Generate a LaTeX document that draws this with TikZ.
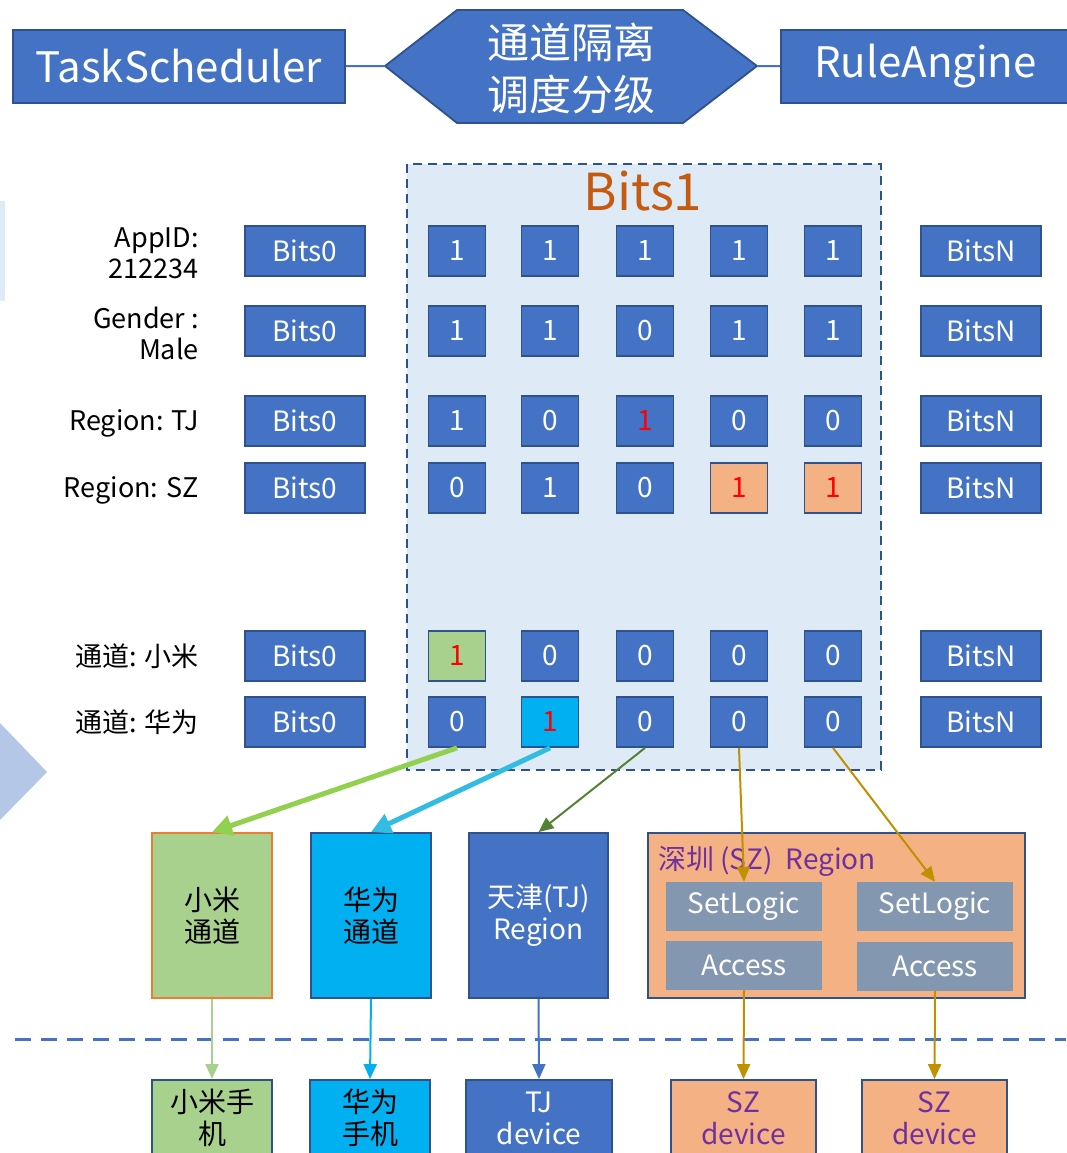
\documentclass[tikz,border=0pt]{standalone}
\usepackage{fontspec}
\setmainfont{Noto Sans CJK SC}
\usetikzlibrary{arrows.meta,positioning}
\definecolor{cblue}{HTML}{4472C4}
\definecolor{cborder}{HTML}{2F528F}
\definecolor{clight}{HTML}{DEEBF7}
\definecolor{cpale}{HTML}{B4C7E7}
\definecolor{cgreen}{HTML}{A9D18E}
\definecolor{ccyan}{HTML}{00B0F0}
\definecolor{cpeach}{HTML}{F4B183}
\definecolor{cgrey}{HTML}{8497B0}
\definecolor{corange}{HTML}{C55A11}
\definecolor{corangeb}{HTML}{ED7D31}
\definecolor{cpurple}{HTML}{7030A0}
\definecolor{cgold}{HTML}{BF9000}
\definecolor{cdgreen}{HTML}{548235}
\definecolor{clgreen}{HTML}{92D050}
\definecolor{csky}{HTML}{33BCE2}
\tikzset{
        node_box/.style={align=center,inner sep=0pt,draw=cborder,line width=1.8pt},
        % Header boxes
        node_head/.style={node_box, fill=cblue, text=white, minimum height=73pt, font=\fontsize{42}{50}\selectfont},
        % Bits0 / BitsN boxes
        node_group/.style={node_box, fill=cblue, text=white, minimum width=120pt, minimum height=50pt, font=\fontsize{28}{30}\selectfont},
        % Single bit cells
        node_bit/.style={node_box, fill=cblue, text=white, minimum width=57pt, minimum height=50pt, font=\fontsize{28}{30}\selectfont},
        % Set bits
        node_hit/.style={node_bit, text=red},
        % Row labels
        node_label/.style={align=right, anchor=east, inner sep=0pt, font=\fontsize{27}{31}\selectfont},
        % Channel and region boxes
        node_region/.style={node_box, minimum width=120pt, minimum height=165pt, font=\fontsize{28}{32}\selectfont},
        % SetLogic / Access boxes
        node_logic/.style={align=center, inner sep=0pt, fill=cgrey, text=white, minimum width=156pt, minimum height=49pt, font=\fontsize{28}{30}\selectfont},
        % Device boxes
        node_device/.style={node_box, minimum width=120pt, minimum height=76pt, font=\fontsize{28}{32}\selectfont},
        % Connectors
        arrow_thick/.style={line width=5pt, -{Triangle[length=20pt,width=20pt]}},
        arrow_thin/.style={line width=2pt, -{Triangle[length=15pt,width=13pt]}}
}
\begin{document}
\begin{tikzpicture}[x=1pt, y=-1pt]
    \useasboundingbox (0,0) rectangle (1066,1153);
    % shapes cut by the left edge
    \fill[clight] (0,201) rectangle (5,301);
    \fill[cpale] (0,723) -- (47,772) -- (0,820) -- cycle;

    % header
    \node[node_head, minimum width=332pt] (task) at (179,66.5) {TaskScheduler};
    \node[node_head, minimum width=289pt] (rule) at (925.5,66.5) {RuleAngine};
    \coordinate (hex_w) at (385,66);
    \coordinate (hex_e) at (757,66);
    \draw[fill=cblue, draw=cborder, line width=1.8pt] (hex_w) -- (457,10) -- (683,10) -- (hex_e) -- (683,123) -- (457,123) -- cycle;
    \node[align=center, inner sep=0pt, text=white, font=\fontsize{42}{52}\selectfont] (hex) at (571,68) {通道隔离\\调度分级};
    \draw[cblue, line width=2pt] (task) -- (hex_w);
    \draw[cblue, line width=2pt] (hex_e) -- (rule);

    % Bits1 group
    \draw[fill=clight, draw=cborder, line width=2.2pt, dash pattern=on 9pt off 6pt] (407,164) rectangle (881,770);
    \node[text=corange, inner sep=0pt, font=\fontsize{51}{55}\selectfont] (title) at (643,191) {Bits1};

    % AppID
    \node[node_label] (l_app) at (199,253) {AppID:\\212234};
    \node[node_group] (app0) at (305,251) {Bits0};
    \node[node_bit] (app1) at (457,251) {1};
    \node[node_bit] (app2) at (550,251) {1};
    \node[node_bit] (app3) at (645,251) {1};
    \node[node_bit] (app4) at (739,251) {1};
    \node[node_bit] (app5) at (833,251) {1};
    \node[node_group] (appN) at (981,251) {BitsN};
    % Gender
    \node[node_label] (l_gen) at (199,333) {Gender :\\Male};
    \node[node_group] (gen0) at (305,331) {Bits0};
    \node[node_bit] (gen1) at (457,331) {1};
    \node[node_bit] (gen2) at (550,331) {1};
    \node[node_bit] (gen3) at (645,331) {0};
    \node[node_bit] (gen4) at (739,331) {1};
    \node[node_bit] (gen5) at (833,331) {1};
    \node[node_group] (genN) at (981,331) {BitsN};
    % Region TJ
    \node[node_label] (l_tj) at (199,423) {Region: TJ};
    \node[node_group] (tj0) at (305,421) {Bits0};
    \node[node_bit] (tj1) at (457,421) {1};
    \node[node_bit] (tj2) at (550,421) {0};
    \node[node_hit] (tj3) at (645,421) {1};
    \node[node_bit] (tj4) at (739,421) {0};
    \node[node_bit] (tj5) at (833,421) {0};
    \node[node_group] (tjN) at (981,421) {BitsN};
    % Region SZ
    \node[node_label] (l_sz) at (199,490) {Region: SZ};
    \node[node_group] (sz0) at (305,488) {Bits0};
    \node[node_bit] (sz1) at (457,488) {0};
    \node[node_bit] (sz2) at (550,488) {1};
    \node[node_bit] (sz3) at (645,488) {0};
    \node[node_hit, fill=cpeach] (sz4) at (739,488) {1};
    \node[node_hit, fill=cpeach] (sz5) at (833,488) {1};
    \node[node_group] (szN) at (981,488) {BitsN};
    % channel Xiaomi
    \node[node_label] (l_mi) at (199,656) {通道: 小米};
    \node[node_group] (mi0) at (305,656) {Bits0};
    \node[node_hit, fill=cgreen] (mi1) at (457,656) {1};
    \node[node_bit] (mi2) at (550,656) {0};
    \node[node_bit] (mi3) at (645,656) {0};
    \node[node_bit] (mi4) at (739,656) {0};
    \node[node_bit] (mi5) at (833,656) {0};
    \node[node_group] (miN) at (981,656) {BitsN};
    % channel Huawei
    \node[node_label] (l_hw) at (199,722) {通道: 华为};
    \node[node_group] (hw0) at (305,722) {Bits0};
    \node[node_bit] (hw1) at (457,722) {0};
    \node[node_hit, fill=ccyan] (hw2) at (550,722) {1};
    \node[node_bit] (hw3) at (645,722) {0};
    \node[node_bit] (hw4) at (739,722) {0};
    \node[node_bit] (hw5) at (833,722) {0};
    \node[node_group] (hwN) at (981,722) {BitsN};

    % channels and regions
    \node[node_region, fill=cgreen, draw=corangeb] (ch_mi) at (212,915.5) {小米\\通道};
    \node[node_region, fill=ccyan] (ch_hw) at (371,915.5) {华为\\通道};
    \node[node_region, fill=cblue, text=white, minimum width=139pt] (reg_tj) at (538.5,915.5) {天津(TJ)\\Region};
    \node[node_region, fill=cpeach, minimum width=377pt] (reg_sz) at (836.5,915.5) {};
    \node[anchor=west, inner sep=0pt, text=cpurple, font=\fontsize{28}{30}\selectfont] (sz_title) at (658,861) {深圳 (SZ)\ \ Region};
    \node[node_logic] (logic1) at (744,906.5) {SetLogic};
    \node[node_logic] (logic2) at (935,906.5) {SetLogic};
    \node[node_logic] (acc1) at (744,965.5) {Access};
    \node[node_logic] (acc2) at (935,966.5) {Access};

    % bits to channels
    \draw[arrow_thick, clgreen] (hw1.south) -- (ch_mi.north);
    \draw[arrow_thick, csky] (hw2.south) -- (ch_hw.north);
    \draw[arrow_thin, cdgreen] (hw3.south) -- (reg_tj.north);
    \draw[arrow_thin, cgold] (hw4.south) -- (logic1.north);
    \draw[arrow_thin, cgold] (hw5.south) -- (logic2.north);

    % separator
    \coordinate (sep_l) at (15,1039);
    \coordinate (sep_r) at (1066,1039);
    \draw[cblue, line width=3pt, dash pattern=on 16pt off 10pt] (sep_l) -- (sep_r);

    % devices
    \node[node_device, fill=cgreen] (dev_mi) at (212,1118) {小米手\\机};
    \node[node_device, fill=ccyan] (dev_hw) at (370,1118) {华为\\手机};
    \node[node_device, fill=cblue, text=white, minimum width=146pt] (dev_tj) at (539,1118) {TJ\\device};
    \node[node_device, fill=cpeach, text=cpurple, minimum width=145pt] (dev_sz1) at (743.5,1118) {SZ\\device};
    \node[node_device, fill=cpeach, text=cpurple, minimum width=145pt] (dev_sz2) at (934.5,1118) {SZ\\device};

    \draw[arrow_thin, cgreen] (ch_mi.south) -- (dev_mi.north);
    \draw[arrow_thin, ccyan] (ch_hw.south) -- (dev_hw.north);
    \draw[arrow_thin, cblue] (reg_tj.south) -- (dev_tj.north);
    \draw[arrow_thin, cgold] (acc1.south) -- (dev_sz1.north);
    \draw[arrow_thin, cgold] (acc2.south) -- (dev_sz2.north);
\end{tikzpicture}
\end{document}
